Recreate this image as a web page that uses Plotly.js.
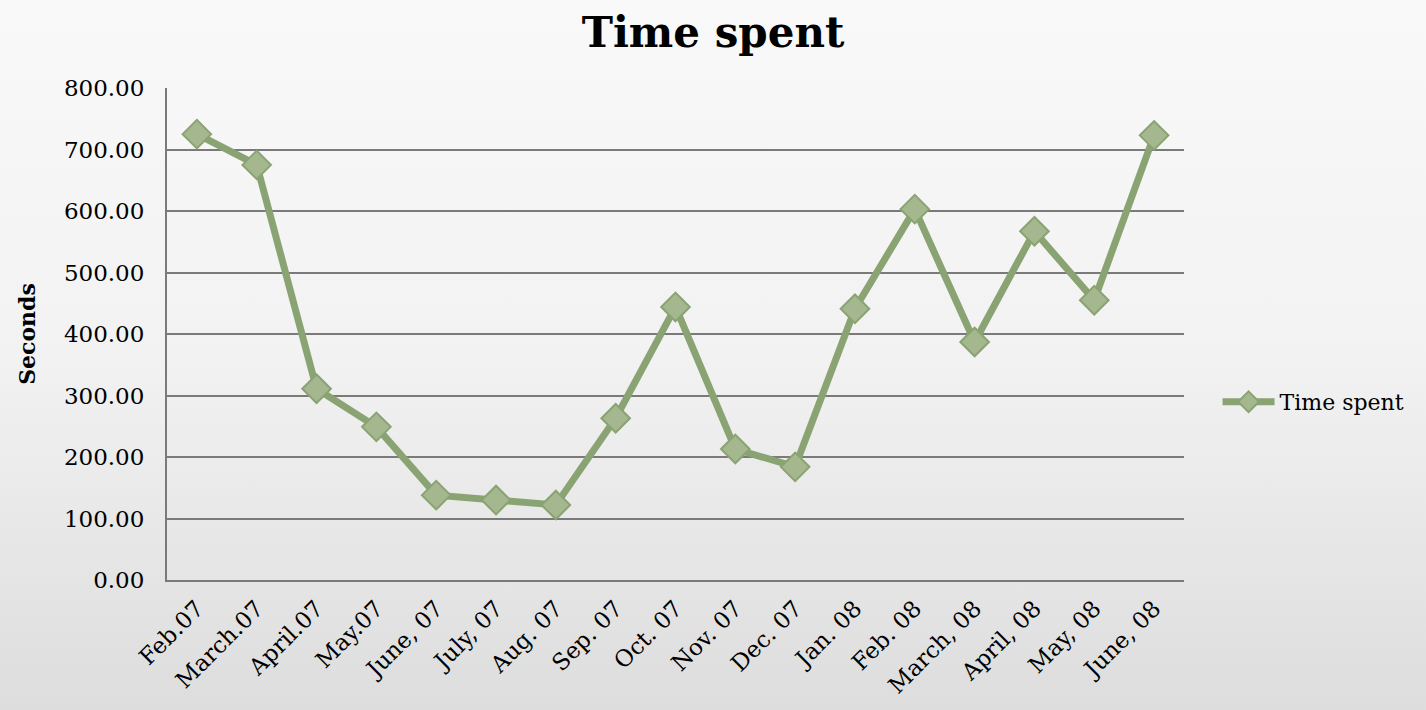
<!DOCTYPE html>
<html><head><meta charset="utf-8">
<script src="https://cdn.plot.ly/plotly-3.0.1.min.js"></script>
<style>
html,body{margin:0;padding:0;width:1426px;height:710px;overflow:hidden;
background:linear-gradient(to bottom,#f9f9f9 0%,#f2f2f2 50%,#dddddd 100%);}
#chart{width:1426px;height:710px;}
</style></head><body><div id="chart"></div>
<script>
const categories = ["Feb.07","March.07","April.07","May.07","June, 07","July, 07","Aug. 07","Sep. 07","Oct. 07","Nov. 07","Dec. 07","Jan. 08","Feb. 08","March, 08","April, 08","May, 08","June, 08"];
const timeSpent = [725, 675, 311, 249, 138, 130, 122, 263, 444, 213, 184, 441, 603, 387, 567, 455, 723];
const yTicks = [0,100,200,300,400,500,600,700,800];

const font = "'DejaVu Serif', 'Liberation Serif', serif";
const trace = {
  x: categories, y: timeSpent, type: 'scatter', mode: 'lines+markers', name: 'Time spent',
  line: {color: '#8aa372', width: 7},
  marker: {symbol: 'diamond', size: 22, color: '#a4b78f', line: {color: '#8aa372', width: 2}}
};
const layout = {
  width: 1426, height: 710,
  paper_bgcolor: 'rgba(0,0,0,0)', plot_bgcolor: 'rgba(0,0,0,0)',
  margin: {l: 167, r: 242, t: 88, b: 130},
  title: {text: '<b>Time spent</b>', font: {family: font, size: 42, color: '#000'}, x: 0.5, xanchor: 'center', y: 0.955, yanchor: 'middle'},
  font: {family: font, size: 22, color: '#000'},
  xaxis: {type: 'category', range: [-0.5, 16.5], tickangle: -45, showgrid: false,
          showline: true, linecolor: '#7a7a7a', linewidth: 2, ticks: '', tickfont: {size: 23}, zeroline: false,
          ticklabelstandoff: 4, automargin: false},
  yaxis: {range: [0, 800], tickvals: yTicks, ticktext: yTicks.map(v => v.toFixed(2)),
          showgrid: true, gridcolor: '#7a7a7a', gridwidth: 2, showline: true, linecolor: '#7a7a7a', linewidth: 2,
          ticks: '', ticklen: 0, zeroline: false, tickfont: {size: 23}, ticklabelstandoff: 16, automargin: false,
          title: {text: '<b>Seconds</b>', font: {family: font, size: 22}, standoff: 22}},
  showlegend: true,
  legend: {x: 1.033, xanchor: 'left', y: 0.362, yanchor: 'middle', bgcolor: 'rgba(0,0,0,0)', font: {size: 22}, itemwidth: 52}
};
Plotly.newPlot('chart', [trace], layout, {displayModeBar: false, staticPlot: true});
</script></body></html>
